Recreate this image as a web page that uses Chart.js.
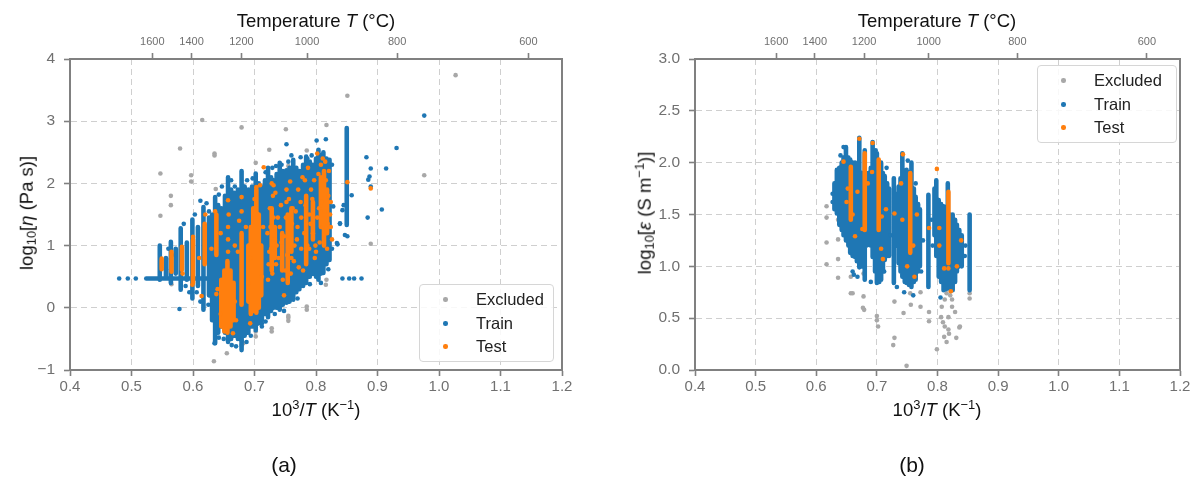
<!DOCTYPE html>
<html>
<head>
<meta charset="utf-8">
<script src="https://cdn.jsdelivr.net/npm/chart.js@4.4.1/dist/chart.umd.min.js"></script>
<style>
  html, body { margin: 0; padding: 0; background: #fff; }
  #wrap { position: relative; width: 1194px; height: 478px; background: #fff; overflow: hidden;
          font-family: "Liberation Sans", Arial, "DejaVu Sans", sans-serif; color: #111; }
  canvas { position: absolute; top: 0; }
  .t { position: absolute; white-space: nowrap; transform: translate(-50%, -50%); font-size: 18.5px; line-height: 1; }
  .t.rot { transform: translate(-50%, -50%) rotate(-90deg); }
  .t sup, .t sub { font-size: 0.7em; line-height: 0; }
  .t sup { vertical-align: 0.55em; }
  .t sub { vertical-align: -0.25em; }
  .cap { font-size: 21px; }
  .legend { position: absolute; width: 133px; height: 76px; border: 1px solid #d6d6d6; border-radius: 4px;
            background: rgba(255,255,255,0.85); font-size: 16.5px; color: #222; }
  .legend .row { position: absolute; left: 0; height: 20px; line-height: 20px; }
  .legend .dot { position: absolute; left: 23px; top: 8px; width: 4.5px; height: 4.5px; border-radius: 50%; }
  .legend .lab { position: absolute; left: 56px; top: 0; }
</style>
</head>
<body>
<div id="wrap">
  <canvas id="chartA" width="597" height="478" style="left:0"></canvas>
  <canvas id="chartB" width="597" height="478" style="left:597px"></canvas>

  <div class="t" style="left:316px;top:21px">Temperature <i>T</i> (°C)</div>
  <div class="t" style="left:937px;top:21px">Temperature <i>T</i> (°C)</div>

  <div class="t" style="left:316px;top:410px">10<sup>3</sup>/<i>T</i> (K<sup>−1</sup>)</div>
  <div class="t" style="left:937px;top:410px">10<sup>3</sup>/<i>T</i> (K<sup>−1</sup>)</div>

  <div class="t rot" style="left:27px;top:213px">log<sub>10</sub>[<i>η</i> (Pa s)]</div>
  <div class="t rot" style="left:645px;top:213px">log<sub>10</sub>[<i>ε</i> (S m<sup>−1</sup>)]</div>

  <div class="t cap" style="left:284px;top:464px">(a)</div>
  <div class="t cap" style="left:912px;top:464px">(b)</div>

  <div class="legend" style="left:419px;top:284px">
    <div class="row" style="top:4px"><span class="dot" style="background:#a8a8a8"></span><span class="lab">Excluded</span></div>
    <div class="row" style="top:28px"><span class="dot" style="background:#1f77b4"></span><span class="lab">Train</span></div>
    <div class="row" style="top:51px"><span class="dot" style="background:#ff7f0e"></span><span class="lab">Test</span></div>
  </div>
  <div class="legend" style="left:1037px;top:65px;width:138px">
    <div class="row" style="top:4px"><span class="dot" style="background:#a8a8a8"></span><span class="lab">Excluded</span></div>
    <div class="row" style="top:28px"><span class="dot" style="background:#1f77b4"></span><span class="lab">Train</span></div>
    <div class="row" style="top:51px"><span class="dot" style="background:#ff7f0e"></span><span class="lab">Test</span></div>
  </div>
</div>

<script>
// ---- secondary (top) axis: temperature in °C ----
const tempTicksC = [1600, 1400, 1200, 1000, 800, 600];

// ---- (a) viscosity, log10[eta (Pa s)] vs 1000/T ----
// dense measurement runs at one temperature: [1000/T, lowest log10 eta, highest log10 eta]
const aTrainCols = [
  [0.546, 0.45, 1.00], [0.556, 0.50, 0.80], [0.564, 0.40, 1.06], [0.572, 0.55, 0.95],
  [0.580, 0.29, 1.28], [0.590, 0.45, 1.05], [0.599, 0.15, 1.42], [0.608, 0.35, 1.30],
  [0.617, -0.03, 1.62], [0.626, 0.20, 1.45], [0.631, -0.20, 1.50], [0.636, -0.57, 1.78],
  [0.641, -0.40, 1.65], [0.646, -0.30, 1.60], [0.652, -0.40, 1.80], [0.657, -0.55, 2.10],
  [0.662, -0.50, 1.90], [0.667, -0.45, 1.85], [0.673, -0.50, 1.90], [0.679, -0.68, 2.20],
  [0.684, -0.45, 1.95], [0.690, -0.40, 1.90], [0.696, -0.30, 1.95], [0.702, -0.36, 2.16],
  [0.707, -0.25, 2.00], [0.712, -0.20, 1.95], [0.717, -0.10, 2.05], [0.722, -0.15, 2.25],
  [0.727, -0.05, 2.10], [0.731, 0.00, 2.05], [0.736, 0.00, 2.15], [0.741, -0.03, 2.33],
  [0.746, 0.05, 2.20], [0.752, 0.08, 2.21], [0.757, 0.10, 2.25], [0.763, 0.13, 2.38],
  [0.768, 0.25, 2.25], [0.773, 0.30, 2.20], [0.779, 0.35, 2.30], [0.784, 0.40, 2.43],
  [0.790, 0.50, 2.35], [0.795, 0.55, 2.30], [0.800, 0.50, 2.40], [0.804, 0.45, 2.54],
  [0.808, 0.55, 2.45], [0.812, 0.56, 2.50], [0.817, 0.70, 2.40], [0.822, 0.77, 2.38],
  [0.850, 1.33, 2.89]
];
// run of constant log10 eta over many temperatures: [log10 eta, first 1000/T, last 1000/T]
const aTrainRows = [[0.47, 0.524, 0.700]];
const aTrainPts = [
  [0.480, 0.47], [0.494, 0.47], [0.507, 0.47], [0.843, 0.47], [0.854, 0.47], [0.862, 0.47], [0.874, 0.47],
  [0.578, -0.02], [0.752, 2.63], [0.801, 2.69], [0.816, 2.71], [0.775, 2.42], [0.786, 2.40],
  [0.744, 2.30], [0.755, 2.35], [0.729, 2.25], [0.682, 1.95], [0.834, 1.04], [0.828, 1.63],
  [0.839, 1.35], [0.663, -0.60], [0.635, -0.57], [0.679, -0.52], [0.712, -0.25], [0.712, -0.30],
  [0.882, 2.42], [0.889, 2.24], [0.887, 2.11], [0.885, 2.06], [0.889, 1.95], [0.884, 1.45],
  [0.914, 2.24], [0.907, 1.58], [0.931, 2.57], [0.976, 3.09], [0.858, 1.81], [0.839, 1.36],
  [0.847, 1.17], [0.851, 1.15], [0.835, 1.02], [0.845, 1.65], [0.843, 1.57], [0.556, 0.62],
  [0.571, 0.85], [0.588, 0.35], [0.606, 0.25], [0.626, 1.55], [0.647, 1.95], [0.668, 1.95],
  [0.612, 1.72], [0.622, 1.68], [0.642, 1.82], [0.662, 2.05], [0.688, 2.05], [0.697, 2.08],
  [0.718, 2.18], [0.735, 2.28], [0.760, 2.45], [0.793, 2.45], [0.826, 2.30], [0.826, 0.95],
  [0.820, 0.62], [0.808, 0.40], [0.790, 0.38], [0.770, 0.15], [0.748, -0.05], [0.733, -0.10],
  [0.718, -0.22], [0.694, -0.45], [0.687, -0.55], [0.670, -0.62], [0.650, -0.50], [0.642, -0.48],
  [0.625, 0.05], [0.612, 0.10], [0.594, 0.25], [0.585, 1.35], [0.603, 1.50], [0.560, 0.95]
];
const aTestCols = [
  [0.549, 0.62, 0.79], [0.565, 0.58, 0.90], [0.582, 0.61, 0.98], [0.600, 0.40, 1.10],
  [0.619, 0.70, 1.35], [0.638, 0.85, 1.50], [0.646, -0.30, 0.45], [0.651, -0.38, 0.60],
  [0.656, -0.40, 0.75], [0.661, -0.30, 0.60], [0.666, -0.20, 0.40], [0.679, 0.05, 1.20],
  [0.690, 0.10, 1.00], [0.694, -0.10, 1.30], [0.698, -0.05, 1.60], [0.703, -0.08, 1.90],
  [0.707, 0.00, 1.50], [0.711, 0.20, 1.00], [0.728, 0.60, 1.60], [0.733, 0.80, 1.30],
  [0.745, 0.60, 1.20], [0.754, 0.40, 1.50], [0.760, 0.90, 1.60], [0.784, 0.70, 1.80],
  [0.795, 1.10, 1.70], [0.808, 1.30, 2.10], [0.813, 1.00, 2.20], [0.818, 1.20, 1.90]
];
const aTestPts = [
  [0.802, 2.48], [0.851, 2.02], [0.889, 1.92], [0.665, -0.41], [0.693, -0.25], [0.614, 0.19],
  [0.599, 0.37], [0.731, 1.97], [0.758, 2.03], [0.715, 2.26], [0.709, 1.97], [0.638, 0.22],
  [0.657, 0.90], [0.657, 1.10], [0.657, 1.30], [0.658, 1.50], [0.657, 1.73], [0.675, 1.40],
  [0.679, 1.55], [0.679, 1.78], [0.673, 0.90], [0.703, 1.94], [0.700, 1.75],
  [0.722, 0.45], [0.724, 0.90], [0.726, 1.30], [0.730, 1.80], [0.728, 2.00], [0.733, 1.10],
  [0.735, 0.70], [0.738, 1.45], [0.748, 0.20], [0.750, 0.60], [0.752, 1.70], [0.752, 1.90],
  [0.757, 1.20], [0.760, 0.80], [0.762, 1.60], [0.765, 1.00], [0.770, 1.30], [0.775, 1.70],
  [0.779, 0.60], [0.782, 2.05], [0.786, 1.00], [0.789, 1.50], [0.792, 1.90], [0.795, 1.20],
  [0.800, 0.90], [0.805, 1.60], [0.808, 2.30], [0.810, 1.30], [0.815, 2.35], [0.818, 0.95],
  [0.820, 1.80], [0.823, 1.50], [0.640, 0.30], [0.645, -0.10], [0.668, 0.10], [0.670, -0.20],
  [0.690, 0.40], [0.693, 0.80], [0.712, 0.50], [0.714, 1.30], [0.744, 1.05], [0.771, 1.90],
  [0.776, 0.95], [0.798, 0.80], [0.824, 1.30], [0.686, 1.30], [0.668, 1.00], [0.645, 1.20],
  [0.630, 0.95], [0.610, 0.80], [0.620, 1.50], [0.636, 1.55], [0.600, 1.14], [0.583, 0.55],
  [0.721, 1.20], [0.723, 0.70], [0.725, 1.60], [0.727, 0.95], [0.729, 0.55], [0.731, 1.45],
  [0.734, 1.85], [0.736, 1.00], [0.739, 0.80], [0.741, 1.30], [0.743, 1.65], [0.746, 0.45],
  [0.748, 1.15], [0.751, 1.45], [0.753, 0.85], [0.756, 1.75], [0.759, 0.55], [0.761, 1.35],
  [0.764, 0.75], [0.767, 1.55], [0.769, 1.10], [0.772, 0.65], [0.776, 1.45], [0.778, 2.10],
  [0.781, 1.20], [0.783, 1.65], [0.787, 2.25], [0.789, 0.95], [0.791, 1.35], [0.794, 1.75],
  [0.797, 2.05], [0.799, 1.00], [0.802, 1.45], [0.804, 2.15], [0.806, 1.05], [0.809, 1.70],
  [0.811, 2.40], [0.814, 1.55], [0.816, 2.05], [0.819, 1.35], [0.821, 2.20], [0.824, 1.70],
  [0.826, 1.10]
];
const aExcludedPts = [
  [0.547, 2.16], [0.579, 2.56], [0.564, 1.80], [0.564, 1.65], [0.547, 1.48], [0.615, 3.02],
  [0.635, 2.48], [0.635, 2.45], [0.597, 2.13], [0.597, 2.03], [0.637, 1.91], [0.679, 2.90],
  [0.702, 2.33], [0.724, 2.54], [0.751, 2.87], [0.785, 2.53], [0.817, 2.94], [0.755, 2.28],
  [0.565, 0.38], [0.785, 0.02], [0.785, -0.03], [0.755, -0.16], [0.755, -0.21], [0.728, -0.33],
  [0.728, -0.38], [0.702, -0.38], [0.702, -0.46], [0.679, -0.60], [0.682, -0.57], [0.655, -0.73],
  [0.634, -0.86], [0.816, 0.37], [0.817, 0.45], [0.851, 3.41], [1.027, 3.74], [0.976, 2.13],
  [0.889, 1.03], [0.755, -0.13], [0.676, 1.47]
];

// ---- (b) electrical conductivity, log10[eps (S m^-1)] vs 1000/T ----
const bTrainCols = [
  [0.630, 1.55, 1.80], [0.634, 1.51, 1.93], [0.638, 1.40, 1.95], [0.642, 1.35, 2.00],
  [0.645, 1.30, 2.05], [0.649, 1.25, 2.15], [0.653, 1.20, 2.05], [0.656, 1.13, 2.03],
  [0.660, 1.10, 2.00], [0.664, 1.09, 2.00], [0.667, 1.05, 1.95], [0.671, 0.99, 2.24],
  [0.675, 1.00, 1.90], [0.680, 0.87, 2.12], [0.683, 1.20, 1.85],
  [0.686, 1.35, 1.90], [0.690, 1.20, 1.95], [0.693, 1.09, 2.20], [0.697, 0.95, 2.00],
  [0.700, 0.84, 2.09], [0.704, 0.85, 1.95], [0.707, 0.87, 2.00], [0.710, 0.95, 1.90],
  [0.713, 1.06, 1.87], [0.717, 1.10, 1.80], [0.720, 1.10, 1.75], [0.728, 0.84, 1.85],
  [0.733, 1.20, 1.70], [0.736, 1.03, 1.77], [0.739, 0.95, 1.85], [0.742, 0.90, 2.09],
  [0.746, 0.85, 1.90], [0.749, 0.84, 1.93], [0.753, 0.82, 1.90], [0.757, 0.80, 2.00],
  [0.761, 0.85, 1.75], [0.764, 0.87, 1.67], [0.768, 0.95, 1.60], [0.771, 1.00, 1.55],
  [0.785, 0.80, 1.69],
  [0.795, 1.30, 1.75], [0.798, 1.10, 1.83], [0.802, 0.90, 1.64], [0.806, 0.85, 1.60],
  [0.810, 0.77, 1.58], [0.814, 0.78, 1.55], [0.817, 0.80, 1.80], [0.821, 0.78, 1.50],
  [0.825, 0.77, 1.50], [0.829, 0.85, 1.45], [0.832, 0.95, 1.40], [0.836, 1.00, 1.35],
  [0.840, 1.00, 1.30], [0.853, 0.77, 1.50]
];
const bTrainPts = [
  [0.627, 1.70], [0.627, 1.62], [0.645, 2.15], [0.660, 0.95], [0.662, 0.92], [0.668, 0.90],
  [0.690, 0.85], [0.712, 0.95], [0.733, 0.80], [0.745, 0.75], [0.760, 0.72], [0.792, 1.20],
  [0.805, 0.70], [0.845, 1.10], [0.846, 1.20], [0.723, 1.30], [0.776, 1.25], [0.773, 0.95],
  [0.790, 1.45], [0.640, 2.07], [0.698, 2.12], [0.716, 1.95], [0.751, 2.02], [0.764, 1.80]
];
const bTestCols = [
  [0.657, 1.45, 1.96], [0.680, 1.35, 2.09], [0.703, 1.35, 2.03], [0.755, 1.13, 1.90],
  [0.818, 1.03, 1.72]
];
const bTestPts = [
  [0.671, 2.23], [0.693, 2.19], [0.743, 2.08], [0.799, 1.94], [0.645, 2.01], [0.650, 1.62],
  [0.660, 1.50], [0.664, 1.29], [0.676, 1.36], [0.692, 1.91], [0.708, 1.48], [0.707, 1.17],
  [0.710, 1.07], [0.740, 1.80], [0.729, 1.51], [0.742, 1.45], [0.766, 1.50], [0.762, 0.90],
  [0.786, 1.37], [0.803, 1.37], [0.803, 1.20], [0.811, 0.98], [0.818, 0.98], [0.832, 1.00],
  [0.822, 0.76], [0.839, 1.25], [0.652, 1.75], [0.668, 1.72], [0.685, 1.80], [0.715, 1.55],
  [0.760, 1.20], [0.750, 1.00]
];
const bExcludedPts = [
  [0.617, 1.58], [0.617, 1.47], [0.617, 1.23], [0.617, 1.02], [0.636, 1.45], [0.636, 1.26],
  [0.636, 1.07], [0.636, 0.89], [0.657, 0.90], [0.657, 0.74], [0.660, 0.74], [0.678, 1.17],
  [0.678, 0.93], [0.678, 0.71], [0.679, 0.58], [0.677, 0.60], [0.700, 1.13], [0.700, 0.52],
  [0.700, 0.48], [0.702, 0.42], [0.729, 0.66], [0.729, 0.31], [0.727, 0.24], [0.749, 0.04],
  [0.744, 0.55], [0.756, 0.63], [0.755, 0.74], [0.772, 0.75], [0.772, 0.61], [0.786, 0.56],
  [0.786, 0.47], [0.799, 0.20], [0.853, 0.74], [0.853, 0.69], [0.807, 0.61], [0.812, 0.68],
  [0.815, 0.74], [0.821, 0.72], [0.824, 0.68], [0.829, 0.56], [0.818, 0.51], [0.812, 0.42],
  [0.818, 0.39], [0.819, 0.35], [0.811, 0.32], [0.815, 0.27], [0.831, 0.31], [0.836, 0.41],
  [0.806, 0.51], [0.809, 0.46], [0.824, 0.61], [0.837, 0.42]
];

// ---- styling ----
const C_TRAIN = '#1f77b4', C_TEST = '#ff7f0e', C_EXCL = '#a8a8a8';
const SPINE = '#808080', GRID = '#cfcfcf', TICKTXT = '#707070';
const DOT_R = 2.3;
const FONT = '"Liberation Sans", Arial, sans-serif';

const toPts = arr => arr.map(([x, y]) => ({ x, y }));
const colsToSegs = cols => cols.flatMap(([x, lo, hi]) => [{ x, y: lo }, { x, y: hi }, { x, y: null }]);
const rowsToSegs = rows => rows.flatMap(([y, lo, hi]) => [{ x: lo, y }, { x: hi, y }, { x: hi, y: null }]);

function pointSet(data, color, order) {
  return { data, order, backgroundColor: color, borderWidth: 0, pointRadius: DOT_R, pointHoverRadius: DOT_R, showLine: false };
}
function segSet(data, color, order) {
  return { data, order, showLine: true, spanGaps: false, pointRadius: 0, pointHoverRadius: 0,
           borderColor: color, borderWidth: DOT_R * 2, borderCapStyle: 'round', fill: false };
}
const fmtSigned = (v, d) => (v < 0 ? '\u2212' : '') + Math.abs(v).toFixed(d);

function makePanel(canvasId, p) {
  const W = 597, H = 478;
  return new Chart(document.getElementById(canvasId), {
    type: 'scatter',
    data: { datasets: p.datasets },
    options: {
      responsive: false, animation: false, devicePixelRatio: 1,
      events: [],
      layout: { padding: 0 },
      plugins: { legend: { display: false }, tooltip: { enabled: false } },
      scales: {
        x: {
          type: 'linear', position: 'bottom', min: 0.4, max: 1.2,
          afterFit: s => { s.height = H - p.bottom; },
          ticks: { stepSize: 0.1, color: TICKTXT, font: { family: FONT, size: 15 }, padding: 2,
                   callback: v => Number(v).toFixed(1) },
          grid: { color: GRID, lineWidth: 1, tickLength: 6, tickColor: SPINE, tickWidth: 1.6 },
          border: { display: true, color: SPINE, width: 2, dash: [6, 4] }
        },
        xTop: {
          type: 'linear', position: 'top', min: 0.4, max: 1.2,
          afterFit: s => { s.height = p.top; },
          afterBuildTicks: s => { s.ticks = tempTicksC.map(t => ({ value: 1000 / (t + 273.15) })); },
          ticks: { color: TICKTXT, font: { family: FONT, size: 11 }, padding: 4, autoSkip: false, maxRotation: 0,
                   callback: (v, i) => String(tempTicksC[i]) },
          grid: { drawOnChartArea: false, tickLength: 6, tickColor: SPINE, tickWidth: 1.6 },
          border: { display: true, color: SPINE, width: 2 }
        },
        y: {
          type: 'linear', position: 'left', min: p.yMin, max: p.yMax,
          afterFit: s => { s.width = p.left; },
          ticks: { stepSize: p.yStep, color: TICKTXT, font: { family: FONT, size: 15.5 }, padding: 9,
                   callback: v => fmtSigned(v, p.yDec) },
          grid: { color: GRID, lineWidth: 1, tickLength: 6, tickColor: SPINE, tickWidth: 1.6 },
          border: { display: true, color: SPINE, width: 2, dash: [6, 4] }
        },
        yRight: {
          type: 'linear', position: 'right', min: p.yMin, max: p.yMax,
          afterFit: s => { s.width = W - p.right; },
          ticks: { display: false },
          grid: { drawOnChartArea: false, drawTicks: false },
          border: { display: true, color: SPINE, width: 2 }
        }
      }
    }
  });
}

makePanel('chartA', {
  left: 70, right: 562, top: 59, bottom: 370, yMin: -1, yMax: 4, yStep: 1, yDec: 0,
  datasets: [
    pointSet(toPts(aTestPts), C_TEST, 0),
    segSet(colsToSegs(aTestCols), C_TEST, 1),
    pointSet(toPts(aTrainPts), C_TRAIN, 2),
    segSet(colsToSegs(aTrainCols), C_TRAIN, 3),
    segSet(rowsToSegs(aTrainRows), C_TRAIN, 3),
    pointSet(toPts(aExcludedPts), C_EXCL, 4)
  ]
});

makePanel('chartB', {
  left: 98, right: 583, top: 59, bottom: 370, yMin: 0, yMax: 3, yStep: 0.5, yDec: 1,
  datasets: [
    pointSet(toPts(bTestPts), C_TEST, 0),
    segSet(colsToSegs(bTestCols), C_TEST, 1),
    pointSet(toPts(bTrainPts), C_TRAIN, 2),
    segSet(colsToSegs(bTrainCols), C_TRAIN, 3),
    pointSet(toPts(bExcludedPts), C_EXCL, 4)
  ]
});
</script>
</body>
</html>
